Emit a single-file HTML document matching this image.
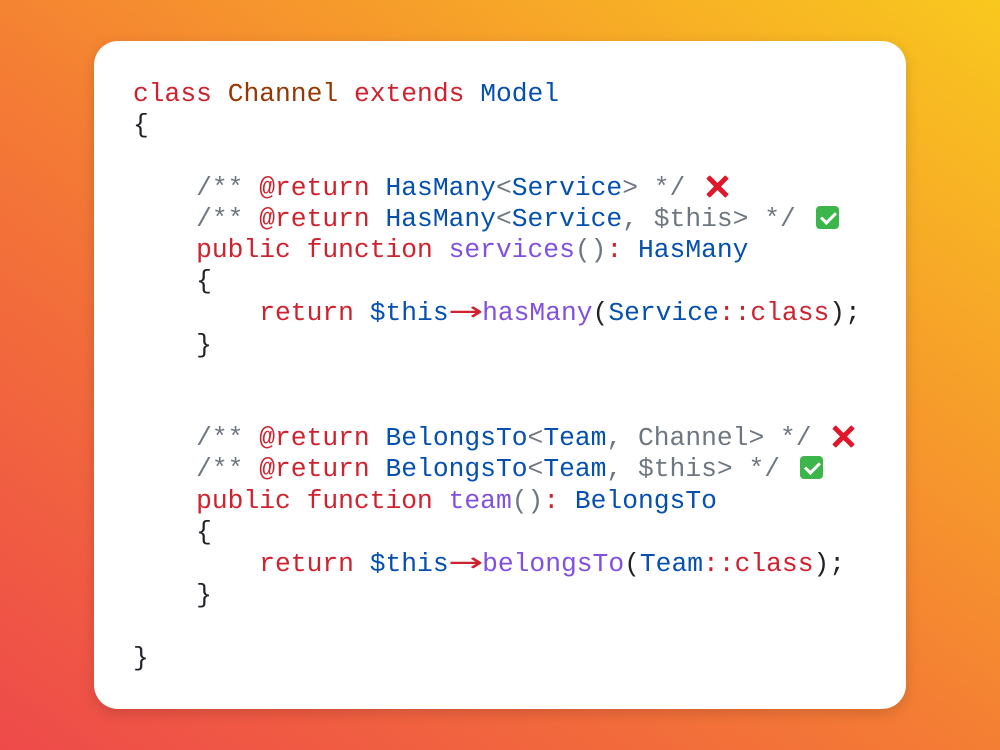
<!DOCTYPE html>
<html><head><style>
html,body{margin:0;padding:0;}
body{width:1000px;height:750px;overflow:hidden;background:linear-gradient(35deg,#ee4a4a 0%,#f47a35 45%,#f9c81e 100%);position:relative;}
.card{position:absolute;left:94px;top:41px;width:812px;height:668px;background:#fff;border-radius:24px;box-shadow:0 4px 14px rgba(0,0,0,0.15);}
pre{position:absolute;left:133px;top:79px;margin:0;font-family:"Liberation Mono","DejaVu Sans Mono",monospace;font-size:26.3px;line-height:31.2px;color:#1f2328;}
.k{color:#cf222e}.b{color:#0550ae}.p{color:#8250df}.g{color:#6e7781}.o{color:#953800}
.a{display:inline-block;width:2ch;text-align:center;color:#cf222e;font-family:"DejaVu Sans",sans-serif;transform:scaleX(1.6);}
.x{display:inline-block;width:24px;height:24px;position:relative;vertical-align:-3px;margin-left:4px}
.x:before,.x:after{content:"";position:absolute;left:10px;top:-1px;width:5px;height:27px;background:#e0162b;border-radius:1px;transform:rotate(45deg)}
.x:after{transform:rotate(-45deg)}
.c{display:inline-block;width:23px;height:23px;background:#3cb54a;border-radius:4px;position:relative;vertical-align:-3px;margin-left:4px}
.c:after{content:"";position:absolute;left:8px;top:3px;width:6px;height:12px;border:solid #fff;border-width:0 3px 3px 0;transform:rotate(45deg)}
</style></head><body>
<div class="card"></div>
<pre><span class="k">class</span> <span class="o">Channel</span> <span class="k">extends</span> <span class="b">Model</span>
{

    <span class="g">/**</span> <span class="k">@return</span> <span class="b">HasMany</span><span class="g">&lt;</span><span class="b">Service</span><span class="g">&gt; */</span> <span class="x"></span>
    <span class="g">/**</span> <span class="k">@return</span> <span class="b">HasMany</span><span class="g">&lt;</span><span class="b">Service</span><span class="g">, $this&gt; */</span> <span class="c"></span>
    <span class="k">public</span> <span class="k">function</span> <span class="p">services</span><span class="g">()</span><span class="k">:</span> <span class="b">HasMany</span>
    {
        <span class="k">return</span> <span class="b">$this</span><span class="a">→</span><span class="p">hasMany</span>(<span class="b">Service</span><span class="k">::class</span>);
    }


    <span class="g">/**</span> <span class="k">@return</span> <span class="b">BelongsTo</span><span class="g">&lt;</span><span class="b">Team</span><span class="g">, Channel&gt; */</span> <span class="x"></span>
    <span class="g">/**</span> <span class="k">@return</span> <span class="b">BelongsTo</span><span class="g">&lt;</span><span class="b">Team</span><span class="g">, $this&gt; */</span> <span class="c"></span>
    <span class="k">public</span> <span class="k">function</span> <span class="p">team</span><span class="g">()</span><span class="k">:</span> <span class="b">BelongsTo</span>
    {
        <span class="k">return</span> <span class="b">$this</span><span class="a">→</span><span class="p">belongsTo</span>(<span class="b">Team</span><span class="k">::class</span>);
    }

}</pre>
</body></html>
